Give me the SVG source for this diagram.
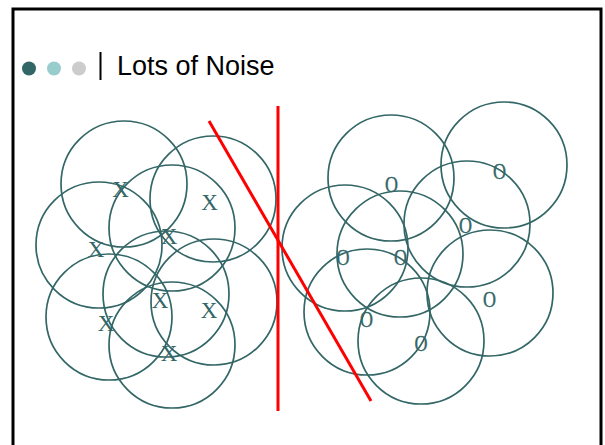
<svg xmlns="http://www.w3.org/2000/svg" width="605" height="445" viewBox="0 0 605 445">
<style>
.c{fill:none;stroke:#336666;stroke-width:1.7}
.x{font-family:"Liberation Serif","Times New Roman",serif;font-size:23px;fill:#336666;text-anchor:middle}
.o{font-family:"Liberation Serif","Times New Roman",serif;font-size:24px;fill:#336666;text-anchor:middle;stroke:#336666;stroke-width:0.4}
.r{stroke:#ff0000;stroke-width:3;fill:none}
</style>
<rect x="0" y="0" width="605" height="445" fill="#ffffff"/>
<rect x="13" y="9" width="588" height="450" fill="none" stroke="#000000" stroke-width="3"/>
<g id="title">
<circle cx="29" cy="68.5" r="7" fill="#336666"/>
<circle cx="54" cy="68.5" r="7" fill="#99cccc"/>
<circle cx="79" cy="68.5" r="7" fill="#cccccc"/>
<line x1="100.5" y1="52" x2="100.5" y2="80" stroke="#000000" stroke-width="2"/>
<text x="117" y="74.5" font-family="'Liberation Sans',Arial,sans-serif" font-size="27" fill="#000000">Lots of Noise</text>
</g>
<g id="x-nodes">
<g id="x1"><circle class="c" cx="124" cy="184" r="63"/><text class="x" x="120.5" y="197">X</text></g>
<g id="x2"><circle class="c" cx="213" cy="199" r="63"/><text class="x" x="209.5" y="209.5">X</text></g>
<g id="x3"><circle class="c" cx="172" cy="228" r="63"/><text class="x" x="169" y="244">X</text></g>
<g id="x4"><circle class="c" cx="99" cy="245" r="63"/><text class="x" x="96" y="257">X</text></g>
<g id="x5"><circle class="c" cx="166" cy="294" r="63"/><text class="x" x="160" y="308">X</text></g>
<g id="x6"><circle class="c" cx="214" cy="302" r="63"/><text class="x" x="209" y="318">X</text></g>
<g id="x7"><circle class="c" cx="109" cy="317" r="63"/><text class="x" x="106" y="331">X</text></g>
<g id="x8"><circle class="c" cx="172" cy="345" r="63"/><text class="x" x="169" y="361">X</text></g>
</g>
<g id="o-nodes">
<g id="o1"><circle class="c" cx="391" cy="178" r="63"/><text class="o" x="391.5" y="191.5" textLength="13" lengthAdjust="spacingAndGlyphs">O</text></g>
<g id="o2"><circle class="c" cx="504" cy="165" r="63"/><text class="o" x="499.5" y="179" textLength="13" lengthAdjust="spacingAndGlyphs">O</text></g>
<g id="o3"><circle class="c" cx="467" cy="224" r="63"/><text class="o" x="465.5" y="233" textLength="13" lengthAdjust="spacingAndGlyphs">O</text></g>
<g id="o4"><circle class="c" cx="345" cy="248" r="63"/><text class="o" x="343" y="264.5" textLength="13" lengthAdjust="spacingAndGlyphs">O</text></g>
<g id="o5"><circle class="c" cx="400" cy="254" r="63"/><text class="o" x="400.5" y="264.5" textLength="13" lengthAdjust="spacingAndGlyphs">O</text></g>
<g id="o6"><circle class="c" cx="490" cy="293" r="63"/><text class="o" x="489.5" y="307" textLength="13" lengthAdjust="spacingAndGlyphs">O</text></g>
<g id="o7"><circle class="c" cx="367" cy="312" r="63"/><text class="o" x="366.5" y="327" textLength="13" lengthAdjust="spacingAndGlyphs">O</text></g>
<g id="o8"><circle class="c" cx="421" cy="341" r="63"/><text class="o" x="421" y="351" textLength="13" lengthAdjust="spacingAndGlyphs">O</text></g>
</g>
<g id="connectors">
<line class="r" x1="278" y1="106" x2="278" y2="411"/>
<line class="r" x1="209" y1="121" x2="371" y2="401"/>
</g>
</svg>
